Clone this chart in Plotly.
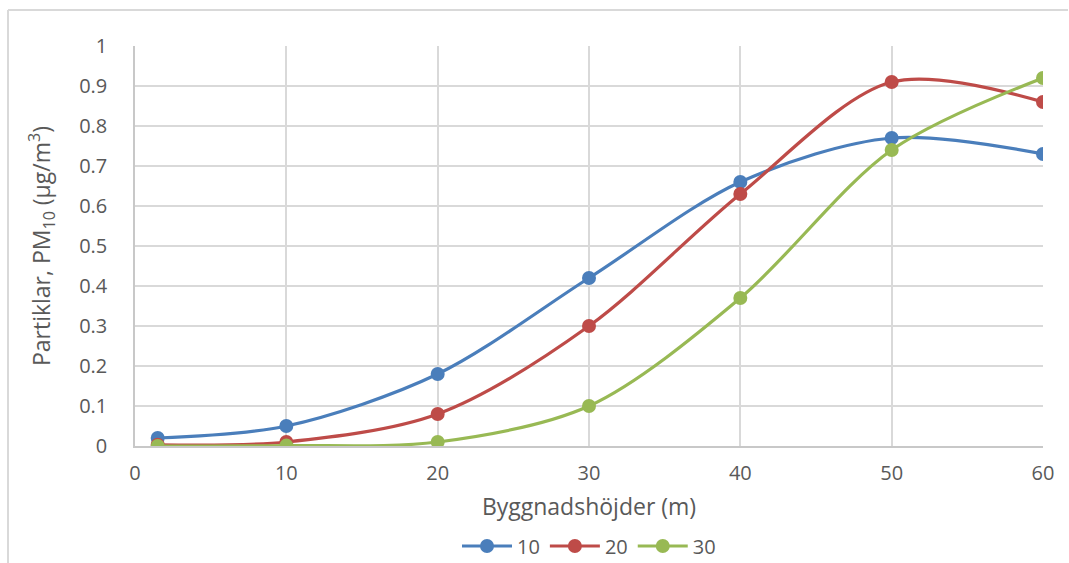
import plotly.graph_objects as go

x_vals = [1.5, 10, 20, 30, 40, 50, 60]
s10 = [0.02, 0.05, 0.18, 0.42, 0.66, 0.77, 0.73]
s20 = [0.003, 0.01, 0.08, 0.30, 0.63, 0.91, 0.86]
s30 = [0.0, 0.001, 0.01, 0.10, 0.37, 0.74, 0.92]
names = ["10", "20", "30"]
colors = ["#4A7EBB", "#BE4B48", "#98B954"]

fig = go.Figure()
for name, ys, c in zip(names, [s10, s20, s30], colors):
    fig.add_trace(go.Scatter(
        x=x_vals, y=ys, name=name, mode="lines+markers",
        line=dict(color=c, width=3.2, shape="spline", smoothing=0.9),
        marker=dict(color=c, size=14),
    ))

font_family = "Open Sans, Noto Sans, sans-serif"
fig.update_layout(
    width=1069, height=563,
    margin=dict(l=135, r=26, t=46, b=117, autoexpand=False),
    paper_bgcolor="white", plot_bgcolor="white",
    font=dict(family=font_family, color="#595959", size=20),
    showlegend=True,
    legend=dict(orientation="h", x=0.5, xanchor="center",
                yref="container", y=(563 - 546) / 563, yanchor="middle",
                font=dict(size=20, color="#595959"), tracegroupgap=0, itemwidth=50),
    xaxis=dict(range=[0, 60], tickvals=[0, 10, 20, 30, 40, 50, 60], showgrid=True,
               gridcolor="#d9d9d9", gridwidth=1.5, zeroline=False, showline=True,
               linecolor="#c8c8c8", linewidth=1.5, ticks="outside", ticklen=8,
               tickcolor="rgba(0,0,0,0)",
               tickfont=dict(size=20), fixedrange=True,
               title=dict(text="Byggnadshöjder (m)", font=dict(size=23, color="#595959"), standoff=14)),
    yaxis=dict(range=[0, 1], tickvals=[i / 10 for i in range(11)],
               ticktext=["0", "0.1", "0.2", "0.3", "0.4", "0.5", "0.6", "0.7", "0.8", "0.9", "1"],
               showgrid=True, gridcolor="#d9d9d9", gridwidth=1.5, zeroline=False, showline=True,
               linecolor="#c8c8c8", linewidth=1.5, ticks="outside", ticklen=22, tickcolor="rgba(0,0,0,0)",
               tickfont=dict(size=20),
               title=dict(text="Partiklar, PM<sub>10</sub> (µg/m<sup>3</sup>)",
                          font=dict(size=23, color="#595959"), standoff=22)),
    shapes=[
        dict(type="line", xref="paper", yref="paper", x0=(8 - 135) / 908, x1=(1068 - 135) / 908,
             y0=(446 - 10) / 400, y1=(446 - 10) / 400, line=dict(color="#d9d9d9", width=2)),
        dict(type="line", xref="paper", yref="paper", x0=(8 - 135) / 908, x1=(8 - 135) / 908,
             y0=(446 - 10) / 400, y1=(446 - 570) / 400, line=dict(color="#d9d9d9", width=2)),
    ],
)

fig.write_html("out.html")
